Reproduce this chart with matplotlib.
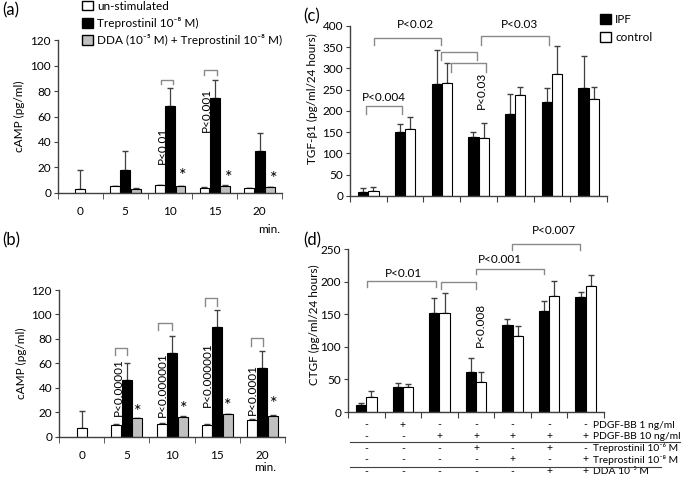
import numpy as np
import matplotlib
matplotlib.use('Agg')
import matplotlib.pyplot as plt
from matplotlib.patches import Patch
from matplotlib.lines import Line2D

plt.rcParams['font.family'] = ['Lato', 'DejaVu Sans']
plt.rcParams['font.size'] = 8.5

# panel (a) cAMP time course
minutes = ['0', '5', '10', '15', '20']
a_unstim = [3.3, 5.1, 5.9, 4.0, 3.5]
a_unstim_err = [14.7, 0.5, 0.5, 0.5, 0.5]
a_trep = [np.nan, 18.0, 68.0, 74.5, 32.7]
a_trep_err = [np.nan, 14.5, 14.4, 14.4, 14.3]
a_dda = [np.nan, 3.0, 5.1, 5.6, 4.3]
a_dda_err = [np.nan, 0.4, 0.4, 0.4, 0.4]
a_pvals = ['P<0.01', 'P<0.001']

# panel (b) cAMP time course
b_unstim = [7.1, 9.5, 10.0, 9.6, 13.7]
b_unstim_err = [13.6, 0.8, 0.8, 0.8, 0.8]
b_trep = [np.nan, 46.4, 68.7, 90.0, 56.3]
b_trep_err = [np.nan, 13.8, 13.9, 14.0, 13.8]
b_dda = [np.nan, 15.2, 16.3, 18.3, 17.2]
b_dda_err = [np.nan, 0.5, 0.5, 0.5, 0.5]
b_pvals = ['P<0.00001', 'P<0.000001', 'P<0.000001', 'P<0.0001']

# panel (c) TGF-b1
c_ipf = [10, 150, 264, 138, 194, 220, 255]
c_ipf_err = [8, 19, 79, 13, 45, 35, 75]
c_ctrl = [12, 157, 265, 137, 238, 286, 229]
c_ctrl_err = [8, 29, 48, 34, 19, 67, 27]

# panel (d) CTGF
d_ipf = [10, 39, 151.5, 61, 133, 155, 176.5]
d_ipf_err = [4.5, 6, 24, 22, 10, 15, 7.5]
d_ctrl = [23.5, 38, 152, 46, 117, 177.5, 193]
d_ctrl_err = [8, 5, 30, 16, 15, 23.5, 17]

# treatment table under (d)
table_labels = ['PDGF-BB 1 ng/ml', 'PDGF-BB 10 ng/ml', 'Treprostinil 10⁻⁶ M',
                'Treprostinil 10⁻⁸ M', 'DDA 10⁻⁵ M']
table_rows = [['-', '+', '-', '-', '-', '-', '-'],
              ['-', '-', '+', '+', '+', '+', '+'],
              ['-', '-', '-', '+', '-', '+', '-'],
              ['-', '-', '-', '-', '+', '-', '+'],
              ['-', '-', '-', '-', '-', '+', '+']]

AX = '#404040'
BR = '#8a8a8a'
GRAY = '#c0c0c0'

W, H = 685, 486
fig = plt.figure(figsize=(W / 100, H / 100), dpi=100)

def rect(left, top, right, bottom):
    return [left / W, 1 - bottom / H, (right - left) / W, (bottom - top) / H]

def style(ax, ymax, ystep):
    for s in ['top', 'right']:
        ax.spines[s].set_visible(False)
    for s in ['left', 'bottom']:
        ax.spines[s].set_color(AX)
        ax.spines[s].set_linewidth(1.0)
    ax.set_ylim(0, ymax)
    ax.set_yticks(np.arange(0, ymax + 1, ystep))
    ax.tick_params(axis='y', length=3, color=AX, pad=2)

def bracket(ax, x1, x2, y, drop):
    ax.plot([x1, x1, x2, x2], [y - drop, y, y, y - drop], color=BR, lw=1.0,
            clip_on=False, zorder=5)

def time_panel(ax, unstim, unstim_err, trep, trep_err, dda, dda_err, ymax):
    n = len(unstim)
    x = np.arange(n)
    w = 0.22
    single = np.isnan(np.array(trep, dtype=float))
    xw = np.where(single, x, x - 0.23)
    zeros = np.zeros(n)
    ax.bar(xw, unstim, w, color='white', edgecolor='black', lw=0.8, zorder=2)
    ax.bar(x, trep, w, color='black', edgecolor='black', lw=0.8, zorder=2)
    ax.bar(x + 0.235, dda, w, color=GRAY, edgecolor='black', lw=0.8, zorder=2)
    ax.errorbar(xw, unstim, yerr=[zeros, unstim_err], fmt='none', ecolor=AX,
                elinewidth=0.9, capsize=2.5, zorder=1)
    ax.errorbar(x, trep, yerr=[zeros, trep_err], fmt='none', ecolor=AX,
                elinewidth=0.9, capsize=2.5, zorder=1)
    ax.errorbar(x + 0.235, dda, yerr=[zeros, dda_err], fmt='none', ecolor=AX,
                elinewidth=0.9, capsize=2.5, zorder=1)
    style(ax, ymax, 20)
    ax.set_xlim(-0.5, n - 0.5)
    ax.set_xticks(x)
    ax.set_xticklabels(minutes)
    ax.set_xticks(np.arange(-0.5, n, 1), minor=True)
    ax.tick_params(axis='x', which='major', length=0, pad=9.5)
    ax.tick_params(axis='x', which='minor', length=4, color=AX)
    ax.set_ylabel('cAMP (pg/ml)')

def pair_panel(ax, ipf, ipf_err, ctrl, ctrl_err, ymax):
    n = len(ipf)
    x = np.arange(n)
    w = 0.28
    zeros = np.zeros(n)
    ax.bar(x - 0.14, ipf, w, color='black', edgecolor='black', lw=0.8, zorder=2)
    ax.bar(x + 0.14, ctrl, w, color='white', edgecolor='black', lw=0.8, zorder=2)
    ax.errorbar(x - 0.14, ipf, yerr=[zeros, ipf_err], fmt='none', ecolor=AX,
                elinewidth=0.9, capsize=2.5, zorder=1)
    ax.errorbar(x + 0.14, ctrl, yerr=[zeros, ctrl_err], fmt='none', ecolor=AX,
                elinewidth=0.9, capsize=2.5, zorder=1)
    style(ax, ymax, 50)
    ax.set_xlim(-0.5, n - 0.5)
    ax.set_xticks(np.arange(-0.5, n, 1))
    ax.set_xticklabels([])
    ax.tick_params(axis='x', length=4, color=AX)

# (a)
ax_a = fig.add_axes(rect(58, 40.5, 282, 192.7))
time_panel(ax_a, a_unstim, a_unstim_err, a_trep, a_trep_err, a_dda, a_dda_err, 120)
ax_a.yaxis.set_label_coords(-0.147, 0.5)
bracket(ax_a, 1.79, 2.06, 88.9, 3.4)
bracket(ax_a, 2.77, 3.04, 96.5, 3.7)
ax_a.text(1.83, 22.7, a_pvals[0], rotation=90, ha='center', va='bottom')
ax_a.text(2.82, 47.6, a_pvals[1], rotation=90, ha='center', va='bottom')
for xs, ys in zip([2.28, 3.32, 4.32], [13.0, 11.8, 10.5]):
    ax_a.text(xs, ys, '*', fontsize=13, ha='center', va='center')
ax_a.text(4.21, -0.245, 'min.', transform=ax_a.get_xaxis_transform(),
          ha='center', va='center')

# (b)
ax_b = fig.add_axes(rect(59, 290, 285, 436.7))
time_panel(ax_b, b_unstim, b_unstim_err, b_trep, b_trep_err, b_dda, b_dda_err, 120)
ax_b.yaxis.set_label_coords(-0.14, 0.5)
for x1, x2, y, d in [(0.73, 1.01, 72.3, 5.5), (1.68, 2.01, 92.7, 5.4),
                     (2.73, 2.99, 113.2, 6.3), (3.74, 4.02, 80.4, 6.2)]:
    bracket(ax_b, x1, x2, y, d)
for xs, ys, p in zip([0.81, 1.79, 2.78, 3.78], [17.2, 16.4, 24.5, 17.7], b_pvals):
    ax_b.text(xs, ys, p, rotation=90, ha='center', va='bottom')
for xs, ys in zip([1.25, 2.25, 3.24, 4.24], [20.0, 22.7, 25.5, 26.8]):
    ax_b.text(xs, ys, '*', fontsize=13, ha='center', va='center')
ax_b.text(4.06, -0.207, 'min.', transform=ax_b.get_xaxis_transform(),
          ha='center', va='center')

# (c)
ax_c = fig.add_axes(rect(350, 26, 607, 196))
pair_panel(ax_c, c_ipf, c_ipf_err, c_ctrl, c_ctrl_err, 400)
ax_c.set_ylabel('TGF-β1 (pg/ml/24 hours)')
ax_c.yaxis.set_label_coords(-0.125, 0.574)
bracket(ax_c, -0.07, 0.905, 211.7, 18)
bracket(ax_c, 0.157, 1.98, 372.8, 17)
bracket(ax_c, 1.98, 2.96, 338, 18)
bracket(ax_c, 2.26, 3.21, 312, 20)
bracket(ax_c, 3.08, 4.93, 377.6, 22)
ax_c.text(0.42, 230.6, 'P<0.004', ha='center', va='center')
ax_c.text(1.27, 403, 'P<0.02', ha='center', va='center', clip_on=False)
ax_c.text(4.13, 403, 'P<0.03', ha='center', va='center', clip_on=False)
ax_c.text(3.08, 248.8, 'P<0.03', rotation=90, ha='center', va='center')

# (d)
ax_d = fig.add_axes(rect(348, 249, 604, 412))
pair_panel(ax_d, d_ipf, d_ipf_err, d_ctrl, d_ctrl_err, 250)
ax_d.set_ylabel('CTGF (pg/ml/24 hours)')
ax_d.yaxis.set_label_coords(-0.11, 0.534)
bracket(ax_d, 0.01, 1.9, 200.5, 9)
bracket(ax_d, 2.03, 2.99, 199.5, 10.5)
bracket(ax_d, 2.99, 4.86, 220, 9)
bracket(ax_d, 3.98, 5.84, 257, 8)
ax_d.text(1.01, 211.7, 'P<0.01', ha='center', va='center')
ax_d.text(3.65, 233.7, 'P<0.001', ha='center', va='center')
ax_d.text(5.13, 279, 'P<0.007', ha='center', va='center', clip_on=False)
ax_d.text(3.11, 134, 'P<0.008', rotation=90, ha='center', va='center')

row_y = [-0.08, -0.152, -0.222, -0.294, -0.366]
tr = ax_d.get_xaxis_transform()
for ry, lab, signs in zip(row_y, table_labels, table_rows):
    for i, s in enumerate(signs):
        ax_d.text(i, ry, s, transform=tr, ha='center', va='center', fontsize=7.5)
    ax_d.text(6.2, ry, lab, transform=tr, ha='left', va='center', fontsize=7.4)
fig.add_artist(Line2D([350 / W, 680 / W], [1 - 442.3 / H] * 2, color=AX, lw=0.8))
fig.add_artist(Line2D([350 / W, 661 / W], [1 - 466.7 / H] * 2, color=AX, lw=0.8))

# legends
h_a = [Patch(facecolor='white', edgecolor='black'),
       Patch(facecolor='black', edgecolor='black'),
       Patch(facecolor=GRAY, edgecolor='black')]
fig.legend(h_a, ['un-stimulated', 'Treprostinil 10⁻⁸ M)',
                 'DDA (10⁻⁵ M) + Treprostinil 10⁻⁸ M)'],
           loc='upper left', bbox_to_anchor=(82 / W, 1 - 0.5 / H), frameon=False,
           handlelength=0.9, handleheight=0.9, handletextpad=0.4,
           labelspacing=0.45, borderpad=0, borderaxespad=0)
h_c = [Patch(facecolor='black', edgecolor='black'),
       Patch(facecolor='white', edgecolor='black')]
fig.legend(h_c, ['IPF', 'control'], loc='upper left',
           bbox_to_anchor=(600 / W, 1 - 14 / H), frameon=False,
           handlelength=0.9, handleheight=0.9, handletextpad=0.4,
           labelspacing=0.6, borderpad=0, borderaxespad=0)

for lab, xp, yp in [('(a)', 2, 2), ('(b)', 2, 232), ('(c)', 303, 8), ('(d)', 303, 232)]:
    fig.text(xp / W, 1 - yp / H, lab, fontsize=12, ha='left', va='top')

fig.savefig('out.png', dpi=100)
